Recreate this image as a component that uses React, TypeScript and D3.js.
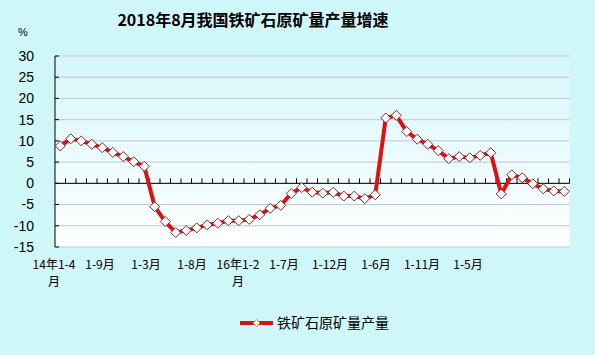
import React from "react";
import * as d3 from "d3";

const title = "2018年8月我国铁矿石原矿量产量增速";
const unitLabel = "%";
const seriesName = "铁矿石原矿量产量";

const categories = [
  "14年1-4月", "1-5月", "1-6月", "1-7月", "1-8月", "1-9月", "1-10月", "1-11月", "1-12月",
  "15年1-2月", "1-3月", "1-4月", "1-5月", "1-6月", "1-7月", "1-8月", "1-9月", "1-10月", "1-11月", "1-12月",
  "16年1-2月", "1-3月", "1-4月", "1-5月", "1-6月", "1-7月", "1-8月", "1-9月", "1-10月", "1-11月", "1-12月",
  "17年1-2月", "1-3月", "1-4月", "1-5月", "1-6月", "1-7月", "1-8月", "1-9月", "1-10月", "1-11月", "1-12月",
  "18年1-2月", "1-3月", "1-4月", "1-5月", "1-6月", "1-7月", "1-8月",
];

const values = [
  8.8, 10.5, 10.0, 9.2, 8.4, 7.3, 6.3, 5.1, 4.0,
  -5.5, -9.0, -11.6, -11.1, -10.5, -9.8, -9.4, -8.8, -8.8, -8.5, -7.4,
  -5.9, -5.2, -2.4, -1.0, -2.1, -2.3, -2.1, -3.0, -3.0, -3.6, -2.7,
  15.4, 16.0, 12.2, 10.4, 9.2, 7.7, 5.8, 6.3, 6.0, 6.6, 7.2,
  -2.5, 2.0, 1.3, -0.1, -1.3, -1.8, -1.9,
];

const xTickLabels = ["14年1-4月", "1-9月", "1-3月", "1-8月", "16年1-2月", "1-7月", "1-12月", "1-6月", "1-11月", "1-5月"];
const yTicks = [30, 25, 20, 15, 10, 5, 0, -5, -10, -15];

export default function App() {
  const W = 595, H = 355;
  const plotL = 55, plotR = 569.5, plotT = 56, plotB = 247;
  const y = d3.scaleLinear().domain([-15, 30]).range([plotB, plotT]);
  const x = d3.scaleBand<string>().domain(categories.map((c, i) => i + "|" + c)).range([plotL, plotR]).padding(0);
  const keys = categories.map((c, i) => i + "|" + c);
  const bw = x.bandwidth();
  const cx = (i: number) => (x(keys[i]) as number) + bw / 2;
  const labelScale = d3.scalePoint<string>().domain(xTickLabels).range([54, 468]);

  const line = d3.line<number>().x((_, i) => cx(i)).y((v) => y(v));
  const zeroY = y(0);
  const diamond = (px: number, py: number, r: number) =>
    `M${px},${py - r}L${px + r},${py}L${px},${py + r}L${px - r},${py}Z`;

  const cnFont = "'Noto Sans CJK SC', 'Noto Sans', sans-serif";
  const numFont = "'Liberation Sans', Arial, sans-serif";

  return (
    <svg width={W} height={H} style={{ position: "absolute", left: 0, top: 0, display: "block" }}>
      <defs>
        <linearGradient id="plotBg" x1="0" y1="0" x2="0" y2="1">
          <stop offset="0" stopColor="#d6f7fa" />
          <stop offset="1" stopColor="#ffffff" />
        </linearGradient>
      </defs>
      <rect x={0} y={0} width={W} height={H} fill="#cff6f8" />
      <rect x={plotL} y={plotT} width={plotR - plotL} height={plotB - plotT} fill="url(#plotBg)" />
      {yTicks.map((t) => (
        <line key={"g" + t} x1={plotL} x2={plotR} y1={y(t)} y2={y(t)} stroke="#c4c4dc" strokeWidth={1} />
      ))}
      <line x1={plotL} x2={plotL} y1={plotT} y2={plotB} stroke="#000" strokeWidth={1} />
      {yTicks.map((t) => (
        <line key={"t" + t} x1={plotL} x2={plotL + 4} y1={y(t)} y2={y(t)} stroke="#000" strokeWidth={1} />
      ))}
      <line x1={plotL} x2={plotR} y1={zeroY} y2={zeroY} stroke="#000" strokeWidth={1} />
      {keys.map((k, i) => (
        <line key={"xt" + i} x1={(x(k) as number) + bw} x2={(x(k) as number) + bw} y1={zeroY} y2={zeroY - 5} stroke="#000" strokeWidth={1} />
      ))}
      {yTicks.map((t) => (
        <text key={"yl" + t} x={34} y={y(t)} dy="0.35em" textAnchor="end" fontFamily={numFont} fontSize={14} fill="#000">
          {t < 0 ? "-" + Math.abs(t) : String(t)}
        </text>
      ))}
      <text x={23} y={36} textAnchor="middle" fontFamily={numFont} fontSize={11} fill="#000">{unitLabel}</text>
      <text x={253} y={26} textAnchor="middle" fontFamily={cnFont} fontSize={16} fontWeight="bold" fill="#000">{title}</text>
      {xTickLabels.map((lab) => {
        const lx = labelScale(lab) as number;
        const wrap = lab.includes("年");
        return (
          <g key={"xl" + lab}>
            <text x={lx} y={269} textAnchor="middle" fontFamily={cnFont} fontSize={12} fill="#000">
              {wrap ? lab.slice(0, -1) : lab}
            </text>
            {wrap && (
              <text x={lx} y={286} textAnchor="middle" fontFamily={cnFont} fontSize={12} fill="#000">
                {lab.slice(-1)}
              </text>
            )}
          </g>
        );
      })}
      <path d={line(values) || ""} fill="none" stroke="#e01010" strokeWidth={4} strokeLinejoin="round" />
      {values.map((v, i) => (
        <path key={"m" + i} d={diamond(cx(i), y(v), 5)} fill="#ffffff" stroke="#7a2a2a" strokeWidth={1} />
      ))}
      <line x1={240} x2={273} y1={323} y2={323} stroke="#e01010" strokeWidth={4} />
      <path d={diamond(256.5, 323, 3.5)} fill="#fff8e0" stroke="#d08040" strokeWidth={1} />
      <text x={277} y={328} fontFamily={cnFont} fontSize={14} fill="#000">{seriesName}</text>
    </svg>
  );
}
